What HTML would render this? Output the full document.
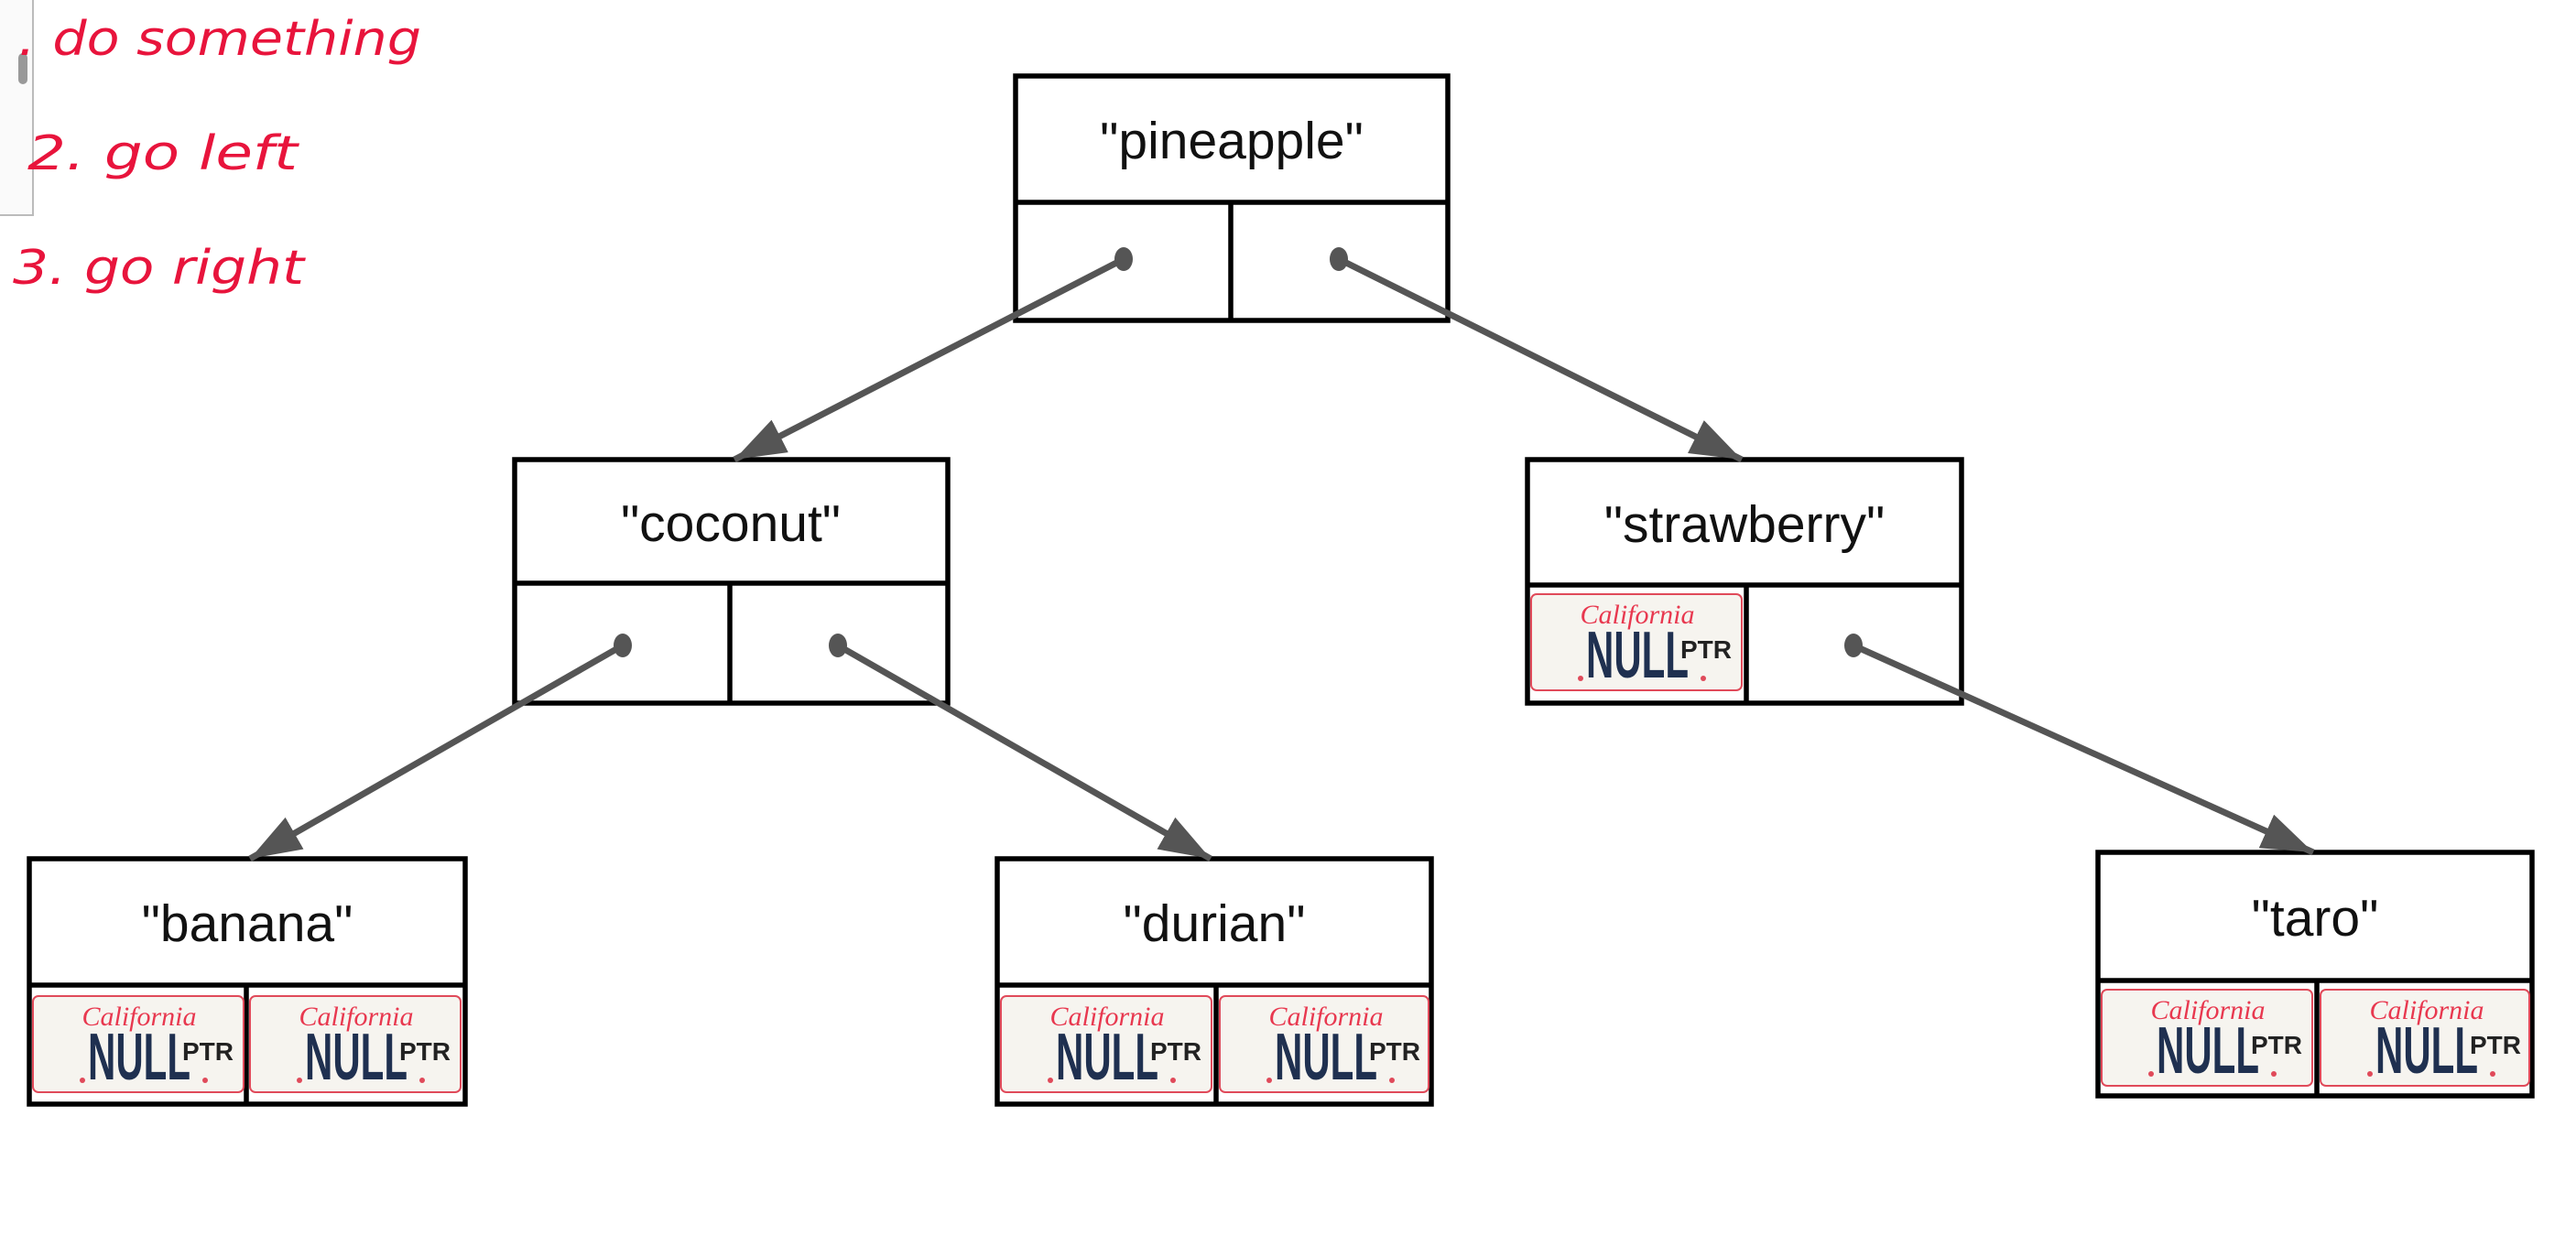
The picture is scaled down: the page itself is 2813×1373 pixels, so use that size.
<!DOCTYPE html>
<html><head><meta charset="utf-8"><style>
html,body{margin:0;padding:0;background:#fff;}
svg{display:block;}
</style></head><body>
<svg width="2813" height="1373" viewBox="0 0 2813 1373" xmlns="http://www.w3.org/2000/svg" font-family="Liberation Sans, sans-serif">
<defs>
<marker id="ah" viewBox="0 0 56 40" refX="56" refY="20" markerWidth="56" markerHeight="40" markerUnits="userSpaceOnUse" orient="auto">
<path d="M0,0 L56,20 L0,40 z" fill="#555"/>
</marker>
</defs>
<rect width="2813" height="1373" fill="#fff"/>
<rect x="-2" y="-2" width="38" height="237" fill="#fafafa" stroke="#bbb" stroke-width="2"/>
<rect x="20" y="58" width="10" height="34" rx="5" fill="#999"/>
<g fill="#e8143c" font-family="DejaVu Sans, sans-serif" font-style="italic">
<text x="20" y="60" font-size="52" textLength="440" lengthAdjust="spacingAndGlyphs">. do   something</text>
<text x="30" y="185" font-size="52" textLength="295" lengthAdjust="spacingAndGlyphs">2. go  left</text>
<text x="14" y="310" font-size="52" textLength="318" lengthAdjust="spacingAndGlyphs">3. go  right</text>
</g>
<g fill="none" stroke="#000" stroke-width="5.5">
<rect x="1109" y="83" width="472" height="267"/><line x1="1109" y1="221" x2="1581" y2="221"/><line x1="1344" y1="221" x2="1344" y2="350"/>
<rect x="562" y="502" width="473" height="266"/><line x1="562" y1="637" x2="1035" y2="637"/><line x1="797" y1="637" x2="797" y2="768"/>
<rect x="1668" y="502" width="474" height="266"/><line x1="1668" y1="639" x2="2142" y2="639"/><line x1="1907" y1="639" x2="1907" y2="768"/>
<rect x="32" y="938" width="476" height="268"/><line x1="32" y1="1076" x2="508" y2="1076"/><line x1="269" y1="1076" x2="269" y2="1206"/>
<rect x="1089" y="938" width="474" height="268"/><line x1="1089" y1="1076" x2="1563" y2="1076"/><line x1="1328" y1="1076" x2="1328" y2="1206"/>
<rect x="2291" y="931" width="474" height="266"/><line x1="2291" y1="1071" x2="2765" y2="1071"/><line x1="2530" y1="1071" x2="2530" y2="1197"/>
</g>
<g font-size="57" fill="#111" text-anchor="middle">
<text x="1345" y="173">"pineapple"</text>
<text x="798" y="591">"coconut"</text>
<text x="1905" y="592">"strawberry"</text>
<text x="270" y="1028">"banana"</text>
<text x="1326" y="1028">"durian"</text>
<text x="2528" y="1022">"taro"</text>
</g>
<g>
<g transform="translate(34,1076)">
<rect x="2" y="12" width="230" height="105" rx="6" fill="#f6f4ef" stroke="#e04a5a" stroke-width="2"/>
<text x="118" y="44" font-family="Liberation Serif, serif" font-style="italic" font-size="30" fill="#e8384f" text-anchor="middle">California</text>
<text x="62" y="103" font-size="72" font-weight="bold" fill="#1f3050" textLength="112" lengthAdjust="spacingAndGlyphs">NULL</text>
<text x="165" y="82" font-weight="bold" font-size="28" fill="#222">PTR</text>
<circle cx="56" cy="104" r="3" fill="#e04a5a"/><circle cx="190" cy="104" r="3" fill="#e04a5a"/>
</g>
<g transform="translate(271,1076)">
<rect x="2" y="12" width="230" height="105" rx="6" fill="#f6f4ef" stroke="#e04a5a" stroke-width="2"/>
<text x="118" y="44" font-family="Liberation Serif, serif" font-style="italic" font-size="30" fill="#e8384f" text-anchor="middle">California</text>
<text x="62" y="103" font-size="72" font-weight="bold" fill="#1f3050" textLength="112" lengthAdjust="spacingAndGlyphs">NULL</text>
<text x="165" y="82" font-weight="bold" font-size="28" fill="#222">PTR</text>
<circle cx="56" cy="104" r="3" fill="#e04a5a"/><circle cx="190" cy="104" r="3" fill="#e04a5a"/>
</g>
<g transform="translate(1091,1076)">
<rect x="2" y="12" width="230" height="105" rx="6" fill="#f6f4ef" stroke="#e04a5a" stroke-width="2"/>
<text x="118" y="44" font-family="Liberation Serif, serif" font-style="italic" font-size="30" fill="#e8384f" text-anchor="middle">California</text>
<text x="62" y="103" font-size="72" font-weight="bold" fill="#1f3050" textLength="112" lengthAdjust="spacingAndGlyphs">NULL</text>
<text x="165" y="82" font-weight="bold" font-size="28" fill="#222">PTR</text>
<circle cx="56" cy="104" r="3" fill="#e04a5a"/><circle cx="190" cy="104" r="3" fill="#e04a5a"/>
</g>
<g transform="translate(1330,1076)">
<rect x="2" y="12" width="228" height="105" rx="6" fill="#f6f4ef" stroke="#e04a5a" stroke-width="2"/>
<text x="118" y="44" font-family="Liberation Serif, serif" font-style="italic" font-size="30" fill="#e8384f" text-anchor="middle">California</text>
<text x="62" y="103" font-size="72" font-weight="bold" fill="#1f3050" textLength="112" lengthAdjust="spacingAndGlyphs">NULL</text>
<text x="165" y="82" font-weight="bold" font-size="28" fill="#222">PTR</text>
<circle cx="56" cy="104" r="3" fill="#e04a5a"/><circle cx="190" cy="104" r="3" fill="#e04a5a"/>
</g>
<g transform="translate(2293,1071)">
<rect x="2" y="10" width="230" height="105" rx="6" fill="#f6f4ef" stroke="#e04a5a" stroke-width="2"/>
<text x="118" y="42" font-family="Liberation Serif, serif" font-style="italic" font-size="30" fill="#e8384f" text-anchor="middle">California</text>
<text x="62" y="101" font-size="72" font-weight="bold" fill="#1f3050" textLength="112" lengthAdjust="spacingAndGlyphs">NULL</text>
<text x="165" y="80" font-weight="bold" font-size="28" fill="#222">PTR</text>
<circle cx="56" cy="102" r="3" fill="#e04a5a"/><circle cx="190" cy="102" r="3" fill="#e04a5a"/>
</g>
<g transform="translate(2532,1071)">
<rect x="2" y="10" width="228" height="105" rx="6" fill="#f6f4ef" stroke="#e04a5a" stroke-width="2"/>
<text x="118" y="42" font-family="Liberation Serif, serif" font-style="italic" font-size="30" fill="#e8384f" text-anchor="middle">California</text>
<text x="62" y="101" font-size="72" font-weight="bold" fill="#1f3050" textLength="112" lengthAdjust="spacingAndGlyphs">NULL</text>
<text x="165" y="80" font-weight="bold" font-size="28" fill="#222">PTR</text>
<circle cx="56" cy="102" r="3" fill="#e04a5a"/><circle cx="190" cy="102" r="3" fill="#e04a5a"/>
</g>
<g transform="translate(1670,639)">
<rect x="2" y="10" width="230" height="105" rx="6" fill="#f6f4ef" stroke="#e04a5a" stroke-width="2"/>
<text x="118" y="42" font-family="Liberation Serif, serif" font-style="italic" font-size="30" fill="#e8384f" text-anchor="middle">California</text>
<text x="62" y="101" font-size="72" font-weight="bold" fill="#1f3050" textLength="112" lengthAdjust="spacingAndGlyphs">NULL</text>
<text x="165" y="80" font-weight="bold" font-size="28" fill="#222">PTR</text>
<circle cx="56" cy="102" r="3" fill="#e04a5a"/><circle cx="190" cy="102" r="3" fill="#e04a5a"/>
</g>
</g>
<g stroke="#555" stroke-width="7" marker-end="url(#ah)">
<line x1="1227" y1="283" x2="802" y2="502"/>
<line x1="1462" y1="283" x2="1902" y2="502"/>
<line x1="680" y1="705" x2="273" y2="938"/>
<line x1="915" y1="705" x2="1322" y2="938"/>
<line x1="2024" y1="705" x2="2526" y2="931"/>
</g>
<g fill="#555">
<ellipse cx="1227" cy="283" rx="10" ry="13"/>
<ellipse cx="1462" cy="283" rx="10" ry="13"/>
<ellipse cx="680" cy="705" rx="10" ry="13"/>
<ellipse cx="915" cy="705" rx="10" ry="13"/>
<ellipse cx="2024" cy="705" rx="10" ry="13"/>
</g>
</svg>
</body></html>
